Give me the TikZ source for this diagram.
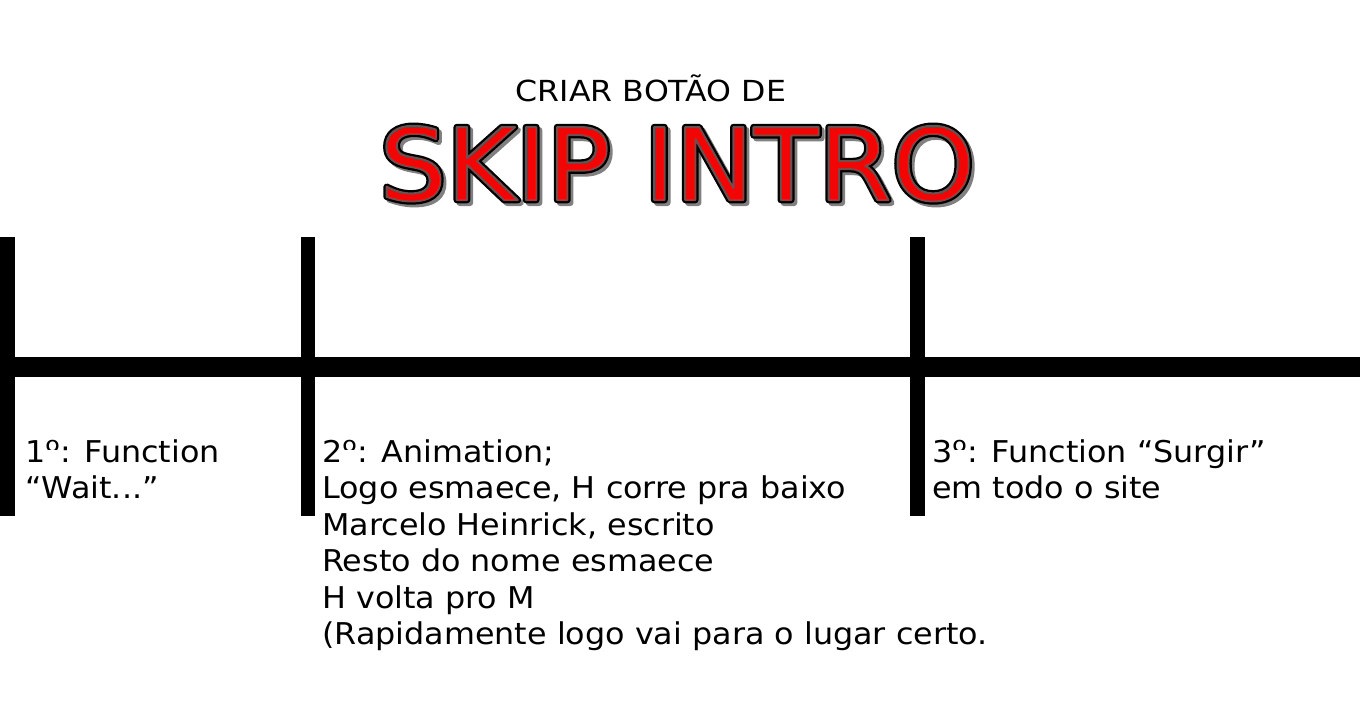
\documentclass[tikz,border=0pt]{standalone}
\usepackage{fontspec}
\setmainfont{DejaVu Sans}
\newfontfamily\lblfont[FakeStretch=1.06]{DejaVu Sans}
\newfontfamily\subfont[FakeStretch=1.09]{DejaVu Sans}
\newfontfamily\bigfont[FakeStretch=1.055]{DejaVu Sans}
% text drawn with fill + stroke (PDF text render mode 2)
% #1 stroke width, #2 stroke colour (R G B), #3 fill colour (r g b), #4 text
\newcommand{\strokedtext}[4]{%
  \special{pdf:literal direct 2 Tr 1 j #1 w #2 RG #3 rg}#4%
  \special{pdf:literal direct 0 Tr 0 j 1 w 0 0 0 RG 0 0 0 rg}}
\newsavebox\ordbox
\newlength\ordw
\begin{document}
\sbox\ordbox{\lblfont\fontsize{30}{36.5}\selectfont\settowidth\ordw{º}%
  \begin{pgfpicture}
    \pgfpathrectangle{\pgfpoint{0pt}{0.43em}}{\pgfpoint{\ordw}{0.6em}}%
    \pgfusepath{clip}%
    \pgftext[base,left]{º}%
    \pgfsetbaseline{0pt}%
  \end{pgfpicture}}%
\begin{tikzpicture}[x=1pt,y=-1pt,
  bar/.style={fill=black,draw=none},
  lbl/.style={anchor=base west,align=left,inner sep=0pt,font=\lblfont\fontsize{30}{36.5}\selectfont},
  big/.style={anchor=base,inner sep=0pt,font=\bigfont\fontsize{100}{110}\selectfont}]
\useasboundingbox (0,0) rectangle (1360,720);
\fill[white] (0,0) rectangle (1360,720);
% timeline bars
\fill[bar] (0,357) rectangle (1360,377);
\fill[bar] (0,237) rectangle (15,516);
\fill[bar] (301,237) rectangle (315,516);
\fill[bar] (910,237) rectangle (925,516);
% title
\node[anchor=base,inner sep=0pt,font=\subfont\fontsize{29}{34}\selectfont] (sub) at (651,101) {CRIAR BOTÃO DE};
\node[big] (shadow) at (680,203) {\strokedtext{6}{0.5 0.5 0.5}{0.5 0.5 0.5}{SKIP INTRO}};
\node[big] (outline) at (677,200) {\strokedtext{6.5}{0 0 0}{0 0 0}{SKIP INTRO}};
\node[big] (title) at (677,200) {\strokedtext{2}{0.45 0.3 0.3}{0.95 0.02 0.02}{SKIP INTRO}};
% labels (anchored at the baseline of their last line)
\node[lbl] (t1) at (25,498.5) {1\usebox\ordbox: Function\\“Wait...”};
\node[lbl] (t2) at (322,644.5) {2\usebox\ordbox: Animation;\\Logo esmaece, H corre pra baixo\\Marcelo Heinrick, escrito\\Resto do nome esmaece\\H volta pro M\\(Rapidamente logo vai para o lugar certo.};
\node[lbl] (t3) at (932,498.5) {3\usebox\ordbox: Function “Surgir”\\em todo o site};
\end{tikzpicture}
\end{document}
